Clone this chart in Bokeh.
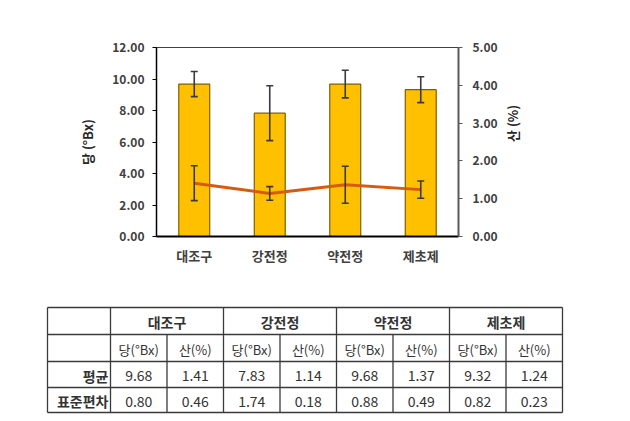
import math
from bokeh.plotting import figure
from bokeh.models import (Range1d, LinearAxis, FactorRange, Whisker, TeeHead,
                          ColumnDataSource, FixedTicker, NumeralTickFormatter)
from bokeh.layouts import column, row
from bokeh.embed import file_html
from bokeh.resources import INLINE
from bokeh.core.properties import value

# ---------------- data ----------------
categories = ["대조구", "강전정", "약전정", "제초제"]
sugar_mean = [9.68, 7.83, 9.68, 9.32]
sugar_sd = [0.80, 1.74, 0.88, 0.82]
acid_mean = [1.41, 1.14, 1.37, 1.24]
acid_sd = [0.46, 0.18, 0.49, 0.23]
left_ticks = [0, 2, 4, 6, 8, 10, 12]
right_ticks = [0, 1, 2, 3, 4, 5]
sub_headers = ["당(°Bx)", "산(%)"]
row_labels = ["평균", "표준편차"]
left_label = "당 (°Bx)"
right_label = "산 (%)"

FONT = "Noto Sans CJK KR"
TXT = "#404040"

src = ColumnDataSource(dict(
    cat=categories,
    sugar=sugar_mean,
    s_lo=[m - s for m, s in zip(sugar_mean, sugar_sd)],
    s_hi=[m + s for m, s in zip(sugar_mean, sugar_sd)],
    acid=acid_mean,
    a_lo=[m - s for m, s in zip(acid_mean, acid_sd)],
    a_hi=[m + s for m, s in zip(acid_mean, acid_sd)],
))

# ---------------- chart ----------------
p = figure(width=630, height=290,
           x_range=FactorRange(*categories, range_padding=0),
           y_range=Range1d(0, 12),
           output_backend="svg", toolbar_location=None,
           min_border_left=156, min_border_right=172,
           min_border_top=47, min_border_bottom=54)
p.extra_y_ranges = {"acid": Range1d(0, 5)}
p.xgrid.visible = False
p.ygrid.visible = False
p.outline_line_color = "#404040"
p.outline_line_width = 1
p.background_fill_color = "white"
p.border_fill_color = "white"

yl = p.yaxis[0]
yl.ticker = FixedTicker(ticks=left_ticks)
yl.formatter = NumeralTickFormatter(format="0.00")
yl.axis_label = left_label
yl.axis_line_color = "black"
yl.axis_line_width = 1.5
yl.major_tick_out = 4
yl.major_tick_in = 0
yl.minor_tick_out = 0
yl.minor_tick_in = 0
yl.major_tick_line_color = "black"
yl.major_label_standoff = 8
yl.axis_label_standoff = 12

yr = LinearAxis(y_range_name="acid", ticker=FixedTicker(ticks=right_ticks),
                formatter=NumeralTickFormatter(format="0.00"),
                axis_label=right_label)
yr.axis_line_color = "#595959"
yr.axis_line_width = 2
yr.major_tick_out = 4
yr.major_tick_in = 0
yr.minor_tick_out = 0
yr.minor_tick_in = 0
yr.major_tick_line_color = "#595959"
yr.major_label_standoff = 10
yr.axis_label_standoff = 12
try:
    yr.axis_label_orientation = math.pi / 2
except Exception:
    pass
p.add_layout(yr, "right")

xa = p.xaxis[0]
xa.axis_line_color = "black"
xa.axis_line_width = 2
xa.major_tick_out = 0
xa.major_tick_in = 0
xa.major_label_standoff = 9

for ax in (yl, yr):
    ax.major_label_text_font = FONT
    ax.major_label_text_font_size = "12px"
    ax.major_label_text_font_style = "bold"
    ax.major_label_text_color = TXT
    ax.axis_label_text_font = FONT
    ax.axis_label_text_font_size = "13px"
    ax.axis_label_text_font_style = "bold"
    ax.axis_label_text_color = "#262626"
xa.major_label_text_font = FONT
xa.major_label_text_font_size = "13px"
xa.major_label_text_font_style = "bold"
xa.major_label_text_color = TXT

p.vbar(x="cat", top="sugar", width=0.41, source=src,
       fill_color="#FFC000", line_color="#7F6000", line_width=1.2)
p.line(x="cat", y="acid", y_range_name="acid", source=src,
       line_color="#D65B12", line_width=3)

ERR = "#3A3A44"
w1 = Whisker(base="cat", lower="s_lo", upper="s_hi", source=src,
             line_color=ERR, line_width=1.6, level="overlay",
             upper_head=TeeHead(size=7, line_color=ERR, line_width=1.6),
             lower_head=TeeHead(size=7, line_color=ERR, line_width=1.6))
w2 = Whisker(base="cat", lower="a_lo", upper="a_hi", source=src,
             y_range_name="acid",
             line_color=ERR, line_width=1.6, level="overlay",
             upper_head=TeeHead(size=7, line_color=ERR, line_width=1.6),
             lower_head=TeeHead(size=7, line_color=ERR, line_width=1.6))
p.add_layout(w1)
p.add_layout(w2)

# ---------------- table ----------------
TH = 131
t = figure(width=630, height=TH, x_range=Range1d(0, 630), y_range=Range1d(TH, 0),
           output_backend="svg", toolbar_location=None, min_border=0,
           x_axis_location=None, y_axis_location=None)
t.xgrid.visible = False
t.ygrid.visible = False
t.outline_line_color = None
t.border_fill_color = "white"

x_left, x_first = 47, 110
sub_w = 56.5
n_sub = 2 * len(categories)
col_x = [x_first + k * sub_w for k in range(n_sub + 1)]
x_right = col_x[-1]
rows_y = [17, 44, 71, 97, 122]

hx0, hx1, hy0, hy1 = [], [], [], []
for y in rows_y:
    hx0.append(x_left); hx1.append(x_right); hy0.append(y); hy1.append(y)
for x in [x_left, x_first] + [col_x[k] for k in range(2, n_sub + 1, 2)]:
    hx0.append(x); hx1.append(x); hy0.append(rows_y[0]); hy1.append(rows_y[-1])
for k in range(1, n_sub, 2):
    hx0.append(col_x[k]); hx1.append(col_x[k]); hy0.append(rows_y[1]); hy1.append(rows_y[-1])
t.segment(x0=hx0, y0=hy0, x1=hx1, y1=hy1, line_color="#3A3A3A", line_width=1.3)

def ymid(i):
    return (rows_y[i] + rows_y[i + 1]) / 2

gx = [(col_x[2 * i] + col_x[2 * i + 2]) / 2 for i in range(len(categories))]
t.text(x=gx, y=[ymid(0) + 1] * len(categories), text=categories,
       text_font=value(FONT), text_font_size="14px", text_font_style="bold",
       text_color="#333333", text_align="center", text_baseline="middle")

sx = [(col_x[k] + col_x[k + 1]) / 2 for k in range(n_sub)]
t.text(x=sx, y=[ymid(1) + 1] * n_sub, text=sub_headers * len(categories),
       text_font=value(FONT), text_font_size="13px",
       text_color="#333333", text_align="center", text_baseline="middle")

t.text(x=[x_first - 2] * 2, y=[ymid(2) + 1, ymid(3) + 1], text=row_labels,
       text_font=value(FONT), text_font_size="14px", text_font_style="bold",
       text_color="#333333", text_align="right", text_baseline="middle")

mean_txt, sd_txt = [], []
for i in range(len(categories)):
    mean_txt += [f"{sugar_mean[i]:.2f}", f"{acid_mean[i]:.2f}"]
    sd_txt += [f"{sugar_sd[i]:.2f}", f"{acid_sd[i]:.2f}"]
t.text(x=sx, y=[ymid(2) + 1] * n_sub, text=mean_txt,
       text_font=value(FONT), text_font_size="14px",
       text_color="#333333", text_align="center", text_baseline="middle")
t.text(x=sx, y=[ymid(3) + 1] * n_sub, text=sd_txt,
       text_font=value(FONT), text_font_size="14px",
       text_color="#333333", text_align="center", text_baseline="middle")

layout = column(p, row(t), spacing=0)
open("out.html", "w").write(file_html(layout, INLINE))
